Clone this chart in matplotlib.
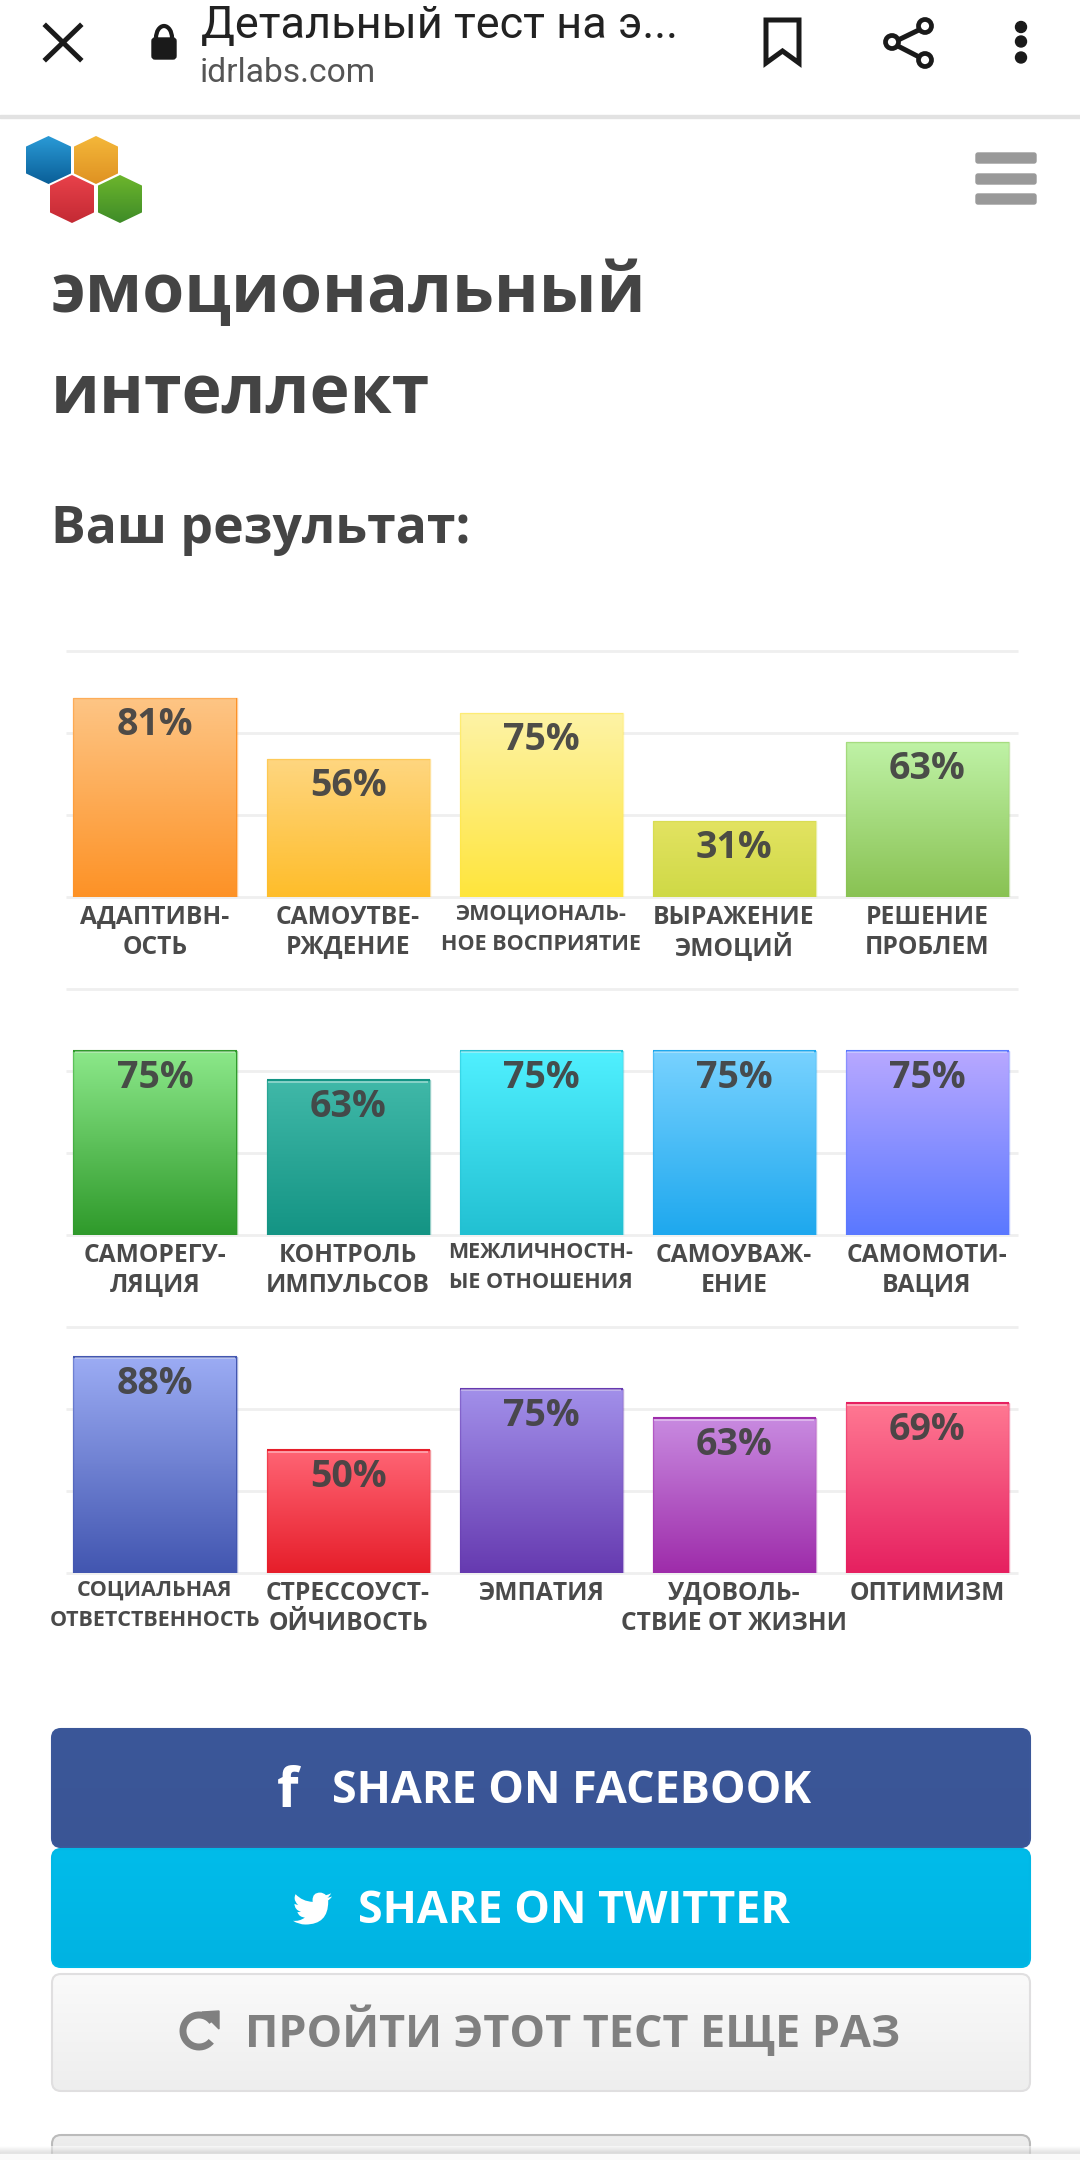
import numpy as np
import matplotlib
matplotlib.use('Agg')
import matplotlib.pyplot as plt
from matplotlib.colors import LinearSegmentedColormap
from matplotlib.patches import FancyBboxPatch, Polygon, Rectangle, Arc, Circle, PathPatch
from matplotlib.path import Path

plt.rcParams['font.family'] = ['Open Sans', 'DejaVu Sans']

# Значения по строкам
row1_labels = ['АДАПТИВН-\nОСТЬ', 'САМОУТВЕ-\nРЖДЕНИЕ', 'ЭМОЦИОНАЛЬ-\nНОЕ ВОСПРИЯТИЕ', 'ВЫРАЖЕНИЕ\nЭМОЦИЙ', 'РЕШЕНИЕ\nПРОБЛЕМ']
row1_values = [81, 56, 75, 31, 63]
row2_labels = ['САМОРЕГУ-\nЛЯЦИЯ', 'КОНТРОЛЬ\nИМПУЛЬСОВ', 'МЕЖЛИЧНОСТН-\nЫЕ ОТНОШЕНИЯ', 'САМОУВАЖ-\nЕНИЕ', 'САМОМОТИ-\nВАЦИЯ']
row2_values = [75, 63, 75, 75, 75]
row3_labels = ['СОЦИАЛЬНАЯ\nОТВЕТСТВЕННОСТЬ', 'СТРЕССОУСТ-\nОЙЧИВОСТЬ', 'ЭМПАТИЯ', 'УДОВОЛЬ-\nСТВИЕ ОТ ЖИЗНИ', 'ОПТИМИЗМ']
row3_values = [88, 50, 75, 63, 69]
grid_levels = [0, 33.3, 66.7, 100]

# Цвета градиентов (верх, низ)
row1_colors = [('#fdc585', '#fd9226'), ('#fed680', '#febd2a'), ('#fdf3a6', '#ffe53c'), ('#e3e362', '#cfd946'), ('#bff2a6', '#89c253')]
row2_colors = [('#8ce88a', '#2f9a2b'), ('#40b8a8', '#149484'), ('#50f0ff', '#22c0d2'), ('#78d2ff', '#1ea8ee'), ('#b8a8ff', '#5a78ff')]
row3_colors = [('#9cacf4', '#4256b0'), ('#ff6474', '#e61e2a'), ('#a290ea', '#663ab0'), ('#c88ae0', '#9e2caa'), ('#ff7892', '#e62060')]
row1_sizes = [17.7, 17.7, 15.5, 17.7, 17.7]
row2_sizes = [17.7, 17.7, 15.5, 17.7, 17.7]
row3_sizes = [15.5, 17.7, 17.7, 17.7, 17.7]

fig = plt.figure(figsize=(10.8, 21.6), dpi=100, facecolor='white')

# Слой страницы в пикселях
bg = fig.add_axes([0, 0, 1, 1])
bg.set_xlim(0, 1080)
bg.set_ylim(2160, 0)
bg.axis('off')


def draw_row(labels, values, colors, sizes, top, base, highlight):
    ax = fig.add_axes([66 / 1080, 1 - base / 2160, 952 / 1080, (base - top) / 2160])
    ax.set_facecolor('none')
    ax.set_xlim(66, 1018)
    ax.set_ylim(0, 100)
    ax.axis('off')
    for g in grid_levels:
        ax.axhline(g, color='#efefef', lw=2, zorder=1, clip_on=False, solid_capstyle='butt')
    xs = 155 + 193 * np.arange(len(values))
    for x, v, lab, (c1, c2), fs in zip(xs, values, labels, colors, sizes):
        bar = ax.bar(x, v, width=163, color=c2, edgecolor='none', zorder=2)[0]
        cm = LinearSegmentedColormap.from_list('g', [c1, c2])
        grad = np.linspace(0, 1, 128).reshape(-1, 1)
        im = ax.imshow(grad, cmap=cm, extent=(x - 81.5, x + 81.5, 0, v), aspect='auto', zorder=3, origin='upper')
        im.set_clip_path(bar)
        # тонкая кромка столбика
        ax.bar(x, v, width=163, color='none', edgecolor=c2, lw=1, alpha=0.45, zorder=4)
        if highlight:
            ax.hlines(v, x - 81.5, x + 81.5, color=c2, lw=1.5, zorder=4)
            ax.hlines(v - 0.8, x - 80, x + 80, color='white', lw=1.2, alpha=0.45, zorder=4)
        ax.text(x, v - 11, f'{v}%', ha='center', va='center', fontsize=27, fontweight='bold', color='#444444', alpha=0.95, zorder=5)
        lines = lab.split('\n')
        off = 20 if fs > 16 else 17
        for i, ln in enumerate(lines):
            ax.annotate(ln, (x, 0), xytext=(0, -(off + i * 30) * 0.72), textcoords='offset points',
                        ha='center', va='center', fontsize=fs, fontweight='bold', color='#4a4a4a', annotation_clip=False)
    ax.set_xlim(66, 1018)
    ax.set_ylim(0, 100)


draw_row(row1_labels, row1_values, row1_colors, row1_sizes, 651, 897, False)
draw_row(row2_labels, row2_values, row2_colors, row2_sizes, 989, 1235, True)
draw_row(row3_labels, row3_values, row3_colors, row3_sizes, 1327, 1573, True)

# Верхняя панель браузера
bg.add_patch(Rectangle((0, 115), 1080, 3, color='#e2e2e2'))
bg.plot([46, 80], [26, 59], color='#1a1a1a', lw=3.6)
bg.plot([80, 46], [26, 59], color='#1a1a1a', lw=3.6)
bg.add_patch(FancyBboxPatch((152, 38), 24, 21, boxstyle='round,pad=0,rounding_size=3', color='#1a1a1a'))
bg.add_patch(Arc((164, 38), 16, 24, theta1=180, theta2=360, color='#1a1a1a', lw=3))
bg.text(201, 38, 'Детальный тест на э...', fontsize=32.5, family='Roboto', color='#222222', va='baseline')
bg.text(200, 82, 'idrlabs.com', fontsize=24.2, family='Roboto', color='#555555', va='baseline')
bg.add_patch(Polygon([(766, 20), (799, 20), (799, 63), (782.5, 51), (766, 63)], closed=True, fill=False, ec='#1a1a1a', lw=3.6, joinstyle='miter'))
bg.plot([925, 892, 925], [27, 43, 60], color='#1a1a1a', lw=3.6)
for cx, cy in [(925, 26), (892, 42), (925, 60)]:
    bg.add_patch(Circle((cx, cy), 6.5, fc='white', ec='#1a1a1a', lw=3.4, zorder=5))
for cy in [27, 41.5, 57.5]:
    bg.add_patch(Circle((1021, cy), 5.5, color='#1a1a1a'))


# Логотип из шестиугольников
def hexagon(x0, x1, y0, y1, c1, c2):
    xm = (x0 + x1) / 2
    h = (y1 - y0) * 0.22
    poly = Polygon([(xm, y0), (x1, y0 + h), (x1, y1 - h), (xm, y1), (x0, y1 - h), (x0, y0 + h)], closed=True, fc='none', ec='none')
    bg.add_patch(poly)
    cm = LinearSegmentedColormap.from_list('h', [c1, c2])
    im = bg.imshow(np.linspace(0, 1, 64).reshape(-1, 1), cmap=cm, extent=(x0, x1, y1, y0), aspect='auto', zorder=3)
    im.set_clip_path(poly)


hexagon(26, 71, 136, 184, '#2a9ad6', '#0a5f98')
hexagon(74, 118, 136, 184, '#f4b73a', '#df9222')
hexagon(50, 94, 175, 223, '#e8414a', '#c42a34')
hexagon(98, 142, 175, 223, '#6cb52c', '#3f8c28')
for y0 in [153, 174, 194]:
    bg.add_patch(FancyBboxPatch((976, y0), 60, 10, boxstyle='round,pad=0,rounding_size=2', color='#999999'))

# Заголовки
bg.text(51, 312, 'эмоциональный', fontsize=49, fontweight='bold', color='#444444', va='baseline')
bg.text(51, 414, 'интеллект', fontsize=49, fontweight='bold', color='#444444', va='baseline')
bg.text(51, 543, 'Ваш результат:', fontsize=37.3, fontweight='bold', color='#444444', va='baseline')


# Кнопки
def button(y0, y1, c1, c2, ec):
    p = FancyBboxPatch((52, y0), 978, y1 - y0, boxstyle='round,pad=0,rounding_size=9', fc='none', ec=ec, lw=1.5, zorder=2)
    bg.add_patch(p)
    cm = LinearSegmentedColormap.from_list('b', [c1, c2])
    im = bg.imshow(np.linspace(0, 1, 64).reshape(-1, 1), cmap=cm, extent=(52, 1030, y1, y0), aspect='auto', zorder=1)
    im.set_clip_path(p)


button(1729, 1847, '#3b5799', '#3a5595', '#3b5799')
button(1849, 1967, '#00bcea', '#00b3e2', '#00b8e6')
button(1974, 2091, '#fafafa', '#eeeeee', '#e0dfe0')
button(2135, 2200, '#eeeeee', '#dddddd', '#bbbbbb')
bg.text(332, 1803, 'SHARE ON FACEBOOK', fontsize=32.3, fontweight='bold', color='white', va='baseline', zorder=5)
bg.text(358, 1923, 'SHARE ON TWITTER', fontsize=32.3, fontweight='bold', color='white', va='baseline', zorder=5)
bg.text(245, 2047, 'ПРОЙТИ ЭТОТ ТЕСТ ЕЩЕ РАЗ', fontsize=32.3, fontweight='bold', color='#808080', va='baseline', zorder=5)
bg.text(277, 1807, 'f', fontsize=40, fontweight='bold', color='white', va='baseline', zorder=5)

# Значок twitter (кривые в сетке 24x24)
bird_pts = [(24, 4.6), (22.6, 5.2), (21.1, 5.3), (22.6, 4.4), (23.3, 2.6), (21.8, 3.5), (20.2, 3.8), (18.8, 2.2), (16.6, 2.2),
            (12.0, 2.2), (12.0, 6.8), (12.0, 7.4), (12.1, 7.9), (5.7, 7.6), (1.6, 3.2), (1.0, 4.2), (1.0, 5.6), (1.0, 8.2), (3.2, 9.7),
            (2.0, 9.7), (0.9, 9.1), (1.0, 12.9), (4.9, 14.0), (3.8, 14.3), (2.7, 14.1), (3.7, 17.3), (7.3, 17.5), (4.0, 20.0), (0, 19.5),
            (3.4, 21.8), (7.6, 21.8), (21.6, 21.8), (21.6, 7.8), (21.6, 7.4), (21.5, 7.1), (23.0, 6.0), (24, 4.6)]
bird_xy = [(293 + 1.63 * u, 1889 + 1.63 * v) for u, v in bird_pts]
bird_codes = [Path.MOVETO] + [Path.CURVE3] * (len(bird_xy) - 1)
bg.add_patch(PathPatch(Path(bird_xy, bird_codes), fc='white', ec='none', zorder=5))

# Значок обновления
bg.add_patch(Arc((199, 2031), 32, 32, theta1=40, theta2=325, color='#808080', lw=5, zorder=5))
bg.add_patch(Polygon([(202, 2012), (219, 2011), (219, 2029)], closed=True, color='#808080', zorder=5))

# Тень снизу
bg.imshow(np.linspace(0, 1, 32).reshape(-1, 1), cmap=LinearSegmentedColormap.from_list('s', ['#ffffff', '#c8c8c8']),
          extent=(0, 1080, 2154, 2146), aspect='auto', zorder=6, alpha=0.6)
bg.add_patch(Rectangle((0, 2154), 1080, 6, color='#fafafa', zorder=7))

bg.set_xlim(0, 1080)
bg.set_ylim(2160, 0)

fig.savefig('out.png', dpi=100)
